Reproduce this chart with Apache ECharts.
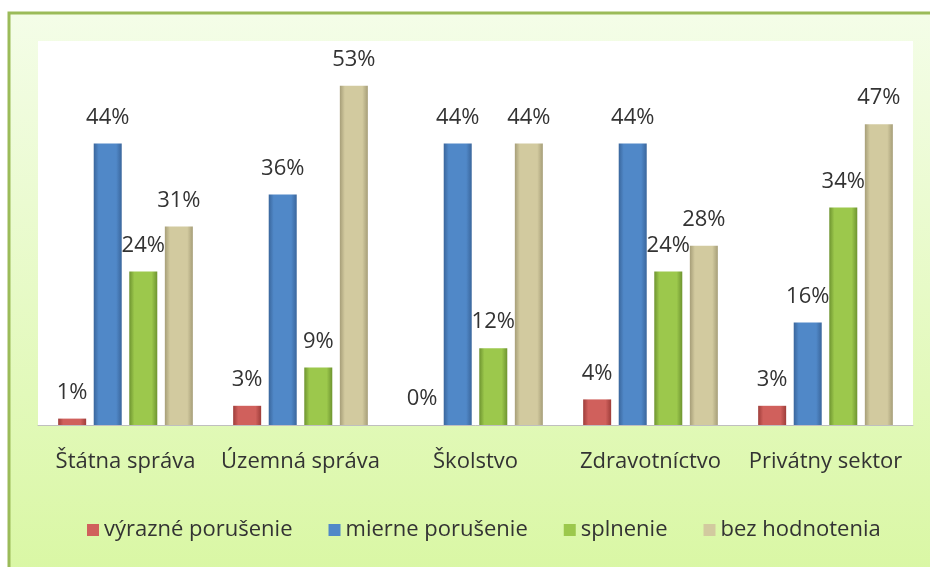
<!DOCTYPE html>
<html>
<head>
<meta charset="utf-8">
<script src="https://cdn.jsdelivr.net/npm/echarts@6/dist/echarts.min.js"></script>
<style>
  html, body { margin: 0; padding: 0; background: #fff; }
  #chart { width: 930px; height: 567px; }
</style>
</head>
<body>
<div id="chart"></div>
<script>
// categories and values (percent)
var categories = ['Štátna správa', 'Územná správa', 'Školstvo', 'Zdravotníctvo', 'Privátny sektor'];
var vyrazne = [1, 3, 0, 4, 3];
var mierne = [44, 36, 44, 44, 16];
var splnenie = [24, 9, 12, 24, 34];
var bezHodnotenia = [31, 53, 44, 28, 47];

var seriesNames = ['výrazné porušenie', 'mierne porušenie', 'splnenie', 'bez hodnotenia'];
var seriesData = [vyrazne, mierne, splnenie, bezHodnotenia];
// [edge, center] colours
var palette = [
  ['#9e3d3a', '#d0605c'],
  ['#3a669c', '#5088c8'],
  ['#6e9430', '#9cc84c'],
  ['#a69e78', '#d2ca9f']
];

var font = '"Open Sans", "Noto Sans", sans-serif';

function barGradient(c) {
  return new echarts.graphic.LinearGradient(0, 0, 1, 0, [
    {offset: 0, color: c[0]},
    {offset: 0.18, color: c[1]},
    {offset: 0.8, color: c[1]},
    {offset: 1, color: c[0]}
  ]);
}

var chart = echarts.init(document.getElementById('chart'));

var series = [];
seriesNames.forEach(function(name, i){
  series.push({
    name: name,
    type: 'bar',
    data: seriesData[i],
    barWidth: 28,
    barGap: '27%',
    itemStyle: { color: barGradient(palette[i]) },
    label: {
      show: true,
      position: 'top',
      distance: 15,
      formatter: '{c}%',
      color: '#333',
      fontFamily: font,
      fontSize: 22
    }
  });
});

var option = {
  backgroundColor: '#fff',
  animation: false,
  graphic: [{
    type: 'rect',
    z: -10,
    silent: true,
    shape: { x: 9, y: 13, width: 940, height: 570 },
    style: {
      fill: new echarts.graphic.LinearGradient(0, 0, 0, 1, [
        {offset: 0, color: '#f4fde8'},
        {offset: 1, color: '#d9f7a3'}
      ]),
      stroke: '#9bbb59',
      lineWidth: 3
    }
  }],
  grid: {
    left: 38, right: 17, top: 41, bottom: 142,
    show: true,
    backgroundColor: '#ffffff',
    borderWidth: 0
  },
  legend: {
    data: seriesNames.map(function(n, i){ return {name: n, itemStyle: {color: palette[i][1]}}; }),
    left: 82,
    top: 514,
    icon: 'rect',
    itemWidth: 12,
    itemHeight: 12,
    itemGap: 36,
    textStyle: { color: '#333', fontFamily: font, fontSize: 22, padding: [0, 0, 0, 0] }
  },
  xAxis: {
    type: 'category',
    data: categories,
    axisLine: { show: true, lineStyle: { color: '#bfbfbf', width: 1 } },
    axisTick: { show: false },
    axisLabel: { color: '#333', fontFamily: font, fontSize: 22, margin: 26, interval: 0 }
  },
  yAxis: {
    type: 'value',
    min: 0,
    max: 60,
    interval: 10,
    show: false,
    splitLine: { show: false }
  },
  series: series
};

chart.setOption(option);
</script>
</body>
</html>
